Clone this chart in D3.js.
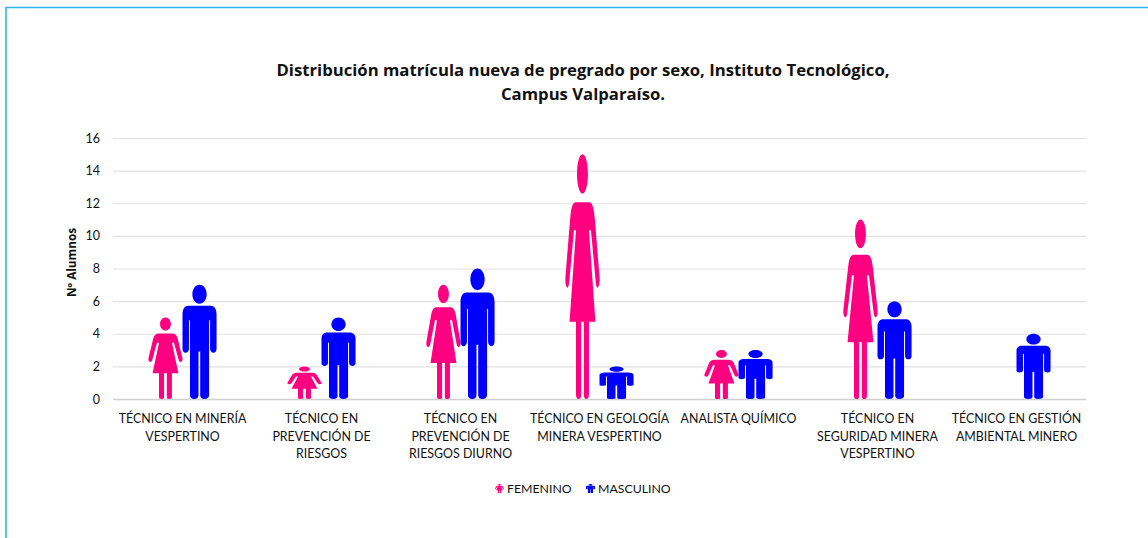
<!DOCTYPE html>
<html>
<head>
<meta charset="utf-8">
<script src="https://d3js.org/d3.v7.min.js"></script>
<style>
    html, body { margin: 0; padding: 0; background: #fff; }
    text { font-family: Lato, "Open Sans", sans-serif; fill: #111; }
</style>
</head>
<body>
<div id="chart"></div>
<script>
    // Data
    var categories = [
        "TÉCNICO EN MINERÍA VESPERTINO",
        "TÉCNICO EN PREVENCIÓN DE RIESGOS",
        "TÉCNICO EN PREVENCIÓN DE RIESGOS DIURNO",
        "TÉCNICO EN GEOLOGÍA MINERA VESPERTINO",
        "ANALISTA QUÍMICO",
        "TÉCNICO EN SEGURIDAD MINERA VESPERTINO",
        "TÉCNICO EN GESTIÓN AMBIENTAL MINERO"
    ];
    var categoryLines = [
        ["TÉCNICO EN MINERÍA", "VESPERTINO"],
        ["TÉCNICO EN", "PREVENCIÓN DE", "RIESGOS"],
        ["TÉCNICO EN", "PREVENCIÓN DE", "RIESGOS DIURNO"],
        ["TÉCNICO EN GEOLOGÍA", "MINERA VESPERTINO"],
        ["ANALISTA QUÍMICO"],
        ["TÉCNICO EN", "SEGURIDAD MINERA", "VESPERTINO"],
        ["TÉCNICO EN GESTIÓN", "AMBIENTAL MINERO"]
    ];
    var femenino = [5, 2, 7, 15, 3, 11, 0];
    var masculino = [7, 5, 8, 2, 3, 6, 4];
    var seriesNames = ["FEMENINO", "MASCULINO"];
    var seriesColors = ["#ff0080", "#0000ff"];
    var yTicks = [0, 2, 4, 6, 8, 10, 12, 14, 16];
    var titleLines = [
        "Distribución matrícula nueva de pregrado por sexo, Instituto Tecnológico,",
        "Campus Valparaíso."
    ];

    // The icons, drawn in a 100 x 100 box and stretched to the bar like the original picture fill
    var manIcon = "M50 0C62 0 71 3.7 71 8.3C71 12.9 62 16.6 50 16.6C38 16.6 29 12.9 29 8.3C29 3.7 38 0 50 0Z" +
        "M17 18.4H83C93 18.4 100 21 100 26V56C100 58 97 59.5 91 59.5C85 59.5 81 58 81 56V31H78V97C78 99 72 100 64 100C57 100 52 99 52 97V58.5H47V97C47 99 42 100 35 100C27 100 22 99 22 97V31H19V56C19 58 15 59.5 9 59.5C3 59.5 0 58 0 56V26C0 21 7 18.4 17 18.4Z";
    var womanIcon = "M50 0C59 0 66 3.6 66 8C66 12.4 59 16 50 16C41 16 34 12.4 34 8C34 3.6 41 0 50 0Z" +
        "M30 19.6H70C78 19.6 83 21.5 86 26L100 50C101.5 52.5 98 54.5 94 54.5C91 54.5 89 53 88 51L75 31H69L88 68.4H69V98C69 99.5 66 100 61 100C56 100 54 99.5 54 98V68.4H46V98C46 99.5 44 100 39 100C34 100 31 99.5 31 98V68.4H12L31 31H25L12 51C11 53 9 54.5 6 54.5C2 54.5 -1.5 52.5 0 50L14 26C17 21.5 22 19.6 30 19.6Z";

    // Getting the dimensions of the graph
    var chartWidth = 1148;
    var chartHeight = 538;
    var margin = { top: 138, right: 62, bottom: 139, left: 113 };
    var plotWidth = chartWidth - margin.left - margin.right;
    var plotHeight = chartHeight - margin.top - margin.bottom;

    var svg = d3.select("#chart")
        .append("svg")
        .attr("width", chartWidth)
        .attr("height", chartHeight)
        .style("display", "block");

    // Frame of the original figure, open at right and bottom
    svg.append("path")
        .attr("d", "M6 538V7.5H1148")
        .attr("fill", "none")
        .attr("stroke", "#30b4ee")
        .attr("stroke-width", 1.6);

    var plot = svg.append("g")
        .attr("transform", `translate(${margin.left}, ${margin.top})`);

    // Scales
    var x0 = d3.scaleBand()
        .domain(categories)
        .range([0, plotWidth])
        .paddingInner(0.51)
        .paddingOuter(0.255);

    var x1 = d3.scaleBand()
        .domain(seriesNames)
        .range([0, x0.bandwidth()]);

    var yScale = d3.scaleLinear()
        .domain([0, 16])
        .range([plotHeight, 0]);

    // Gridlines and y labels
    var yAxis = plot.append("g")
        .call(d3.axisLeft(yScale).tickValues(yTicks).tickSize(-plotWidth).tickPadding(13));

    yAxis.select(".domain").remove();
    yAxis.selectAll("line")
        .attr("stroke", d => d === 0 ? "#d0d0d0" : "#e2e2e2")
        .attr("stroke-width", d => d === 0 ? 1.6 : 1.2);
    yAxis.selectAll("text")
        .style("font-family", "Lato, sans-serif")
        .style("font-size", "12.5px");

    // Category labels, one text per line
    categories.forEach(function (c, i) {
        plot.selectAll(null)
            .data(categoryLines[i])
            .enter()
            .append("text")
            .attr("class", "xlabel")
            .attr("text-anchor", "middle")
            .style("font-size", "12.4px")
            .attr("x", x0(c) + x0.bandwidth() / 2)
            .attr("y", (t, j) => plotHeight + 24 + j * 17.5)
            .text(t => t);
    });

    function iconTransform(value, category, name) {
        var sx = x1.bandwidth() / 100;
        var sy = (plotHeight - yScale(value)) / 100;
        return `translate(${x0(category) + x1(name)}, ${yScale(value)}) scale(${sx}, ${sy})`;
    }

    // Draw the icons, one per value
    [[femenino, womanIcon], [masculino, manIcon]].forEach(function (s, k) {
        categories.forEach(function (c, i) {
            if (s[0][i] <= 0) return;
            plot.append("path")
                .attr("d", s[1])
                .attr("fill", seriesColors[k])
                .attr("transform", iconTransform(s[0][i], c, seriesNames[k]));
        });
    });

    // Y axis label
    plot.append("text")
        .attr("transform", "rotate(-90)")
        .attr("x", -124.5)
        .attr("y", -37)
        .attr("text-anchor", "middle")
        .style("font-family", "'Open Sans', sans-serif")
        .style("font-size", "11.8px")
        .style("font-weight", "700")
        .text("Nº Alumnos");

    // Title
    svg.selectAll(".title")
        .data(titleLines)
        .enter()
        .append("text")
        .attr("class", "title")
        .attr("x", 583)
        .attr("y", (d, i) => 76 + i * 23.5)
        .attr("text-anchor", "middle")
        .style("font-family", "'Open Sans', sans-serif")
        .style("font-size", "16.7px")
        .style("font-weight", "700")
        .text(d => d);

    // Legend
    var legend = svg.append("g").attr("transform", "translate(0, 488)");
    var legendX = [495, 586];
    seriesNames.forEach(function (name, k) {
        legend.append("path")
            .attr("d", k === 0 ? womanIcon : manIcon)
            .attr("fill", seriesColors[k])
            .attr("transform", `translate(${legendX[k]}, -4) scale(0.09, 0.09)`);
        legend.append("text")
            .attr("x", legendX[k] + 12)
            .attr("y", 5)
            .style("font-size", "12.3px")
            .text(name);
    });
</script>
</body>
</html>
